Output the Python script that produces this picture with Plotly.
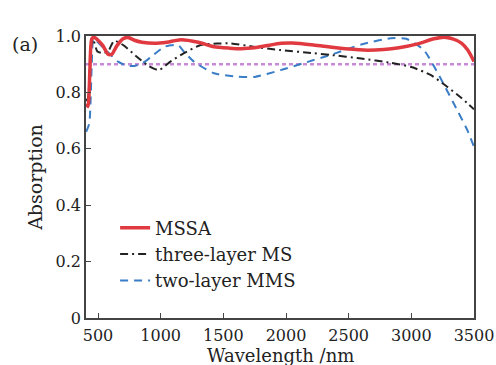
import plotly.graph_objects as go

# ---- data ----
mssa_w = [405, 420, 435, 450, 470, 500, 540, 580, 610, 650, 700, 740, 790, 850, 950, 1050, 1160, 1300,
          1425, 1550, 1640, 1750, 1850, 1960, 2050, 2220, 2400, 2620, 2780, 2900, 3050, 3180, 3260, 3330,
          3400, 3450, 3500]
mssa_a = [0.76, 0.75, 0.88, 0.99, 0.995, 0.985, 0.965, 0.935, 0.935, 0.965, 0.99, 0.995, 0.985, 0.978,
          0.974, 0.978, 0.987, 0.978, 0.962, 0.957, 0.955, 0.958, 0.966, 0.974, 0.975, 0.968, 0.958, 0.95,
          0.952, 0.958, 0.972, 0.99, 0.996, 0.99, 0.975, 0.95, 0.91]

ms3_w = [405, 420, 440, 460, 495, 540, 580, 628, 700, 800, 900, 984, 1080, 1186, 1319, 1450, 1558, 1742,
         1957, 2200, 2355, 2600, 2834, 3000, 3153, 3286, 3400, 3500]
ms3_a = [0.77, 0.78, 0.95, 0.99, 0.945, 0.94, 0.945, 0.983, 0.968, 0.93, 0.895, 0.879, 0.91, 0.939, 0.968,
         0.973, 0.974, 0.962, 0.95, 0.94, 0.933, 0.92, 0.905, 0.89, 0.862, 0.82, 0.78, 0.74]

mms2_w = [405, 430, 450, 465, 520, 588, 660, 730, 793, 860, 926, 1032, 1138, 1186, 1265, 1425, 1611, 1750,
          1957, 2150, 2355, 2600, 2834, 2960, 3100, 3233, 3366, 3446, 3500]
mms2_a = [0.66, 0.69, 0.9, 0.99, 0.968, 0.939, 0.909, 0.895, 0.894, 0.905, 0.927, 0.962, 0.968, 0.944,
          0.909, 0.868, 0.856, 0.855, 0.879, 0.905, 0.933, 0.97, 0.992, 0.99, 0.95, 0.85, 0.737, 0.667, 0.607]

ref_w = [404, 3500]
ref_a = [0.9, 0.9]

x_ticks = [500, 1000, 1500, 2000, 2500, 3000, 3500]
y_ticks = [0, 0.2, 0.4, 0.6, 0.8, 1.0]
y_labels = ["0", "0.2", "0.4", "0.6", "0.8", "1.0"]

FONT = "DejaVu Serif"

fig = go.Figure()
fig.add_trace(go.Scatter(x=ref_w, y=ref_a, mode="lines", showlegend=False,
                         line=dict(color="#c98ad8", width=2.5, dash="4px,3px")))
fig.add_trace(go.Scatter(x=mms2_w, y=mms2_a, mode="lines", name="two-layer MMS", legendrank=3,
                         legendgroup="c",
                         line=dict(color="#3a7dc6", width=2, dash="8px,6px", shape="spline", smoothing=0.6)))
fig.add_trace(go.Scatter(x=ms3_w, y=ms3_a, mode="lines", name="three-layer MS", legendrank=2,
                         legendgroup="b",
                         line=dict(color="#222222", width=2, dash="8px,4px,2px,4px", shape="spline", smoothing=0.6)))
fig.add_trace(go.Scatter(x=mssa_w, y=mssa_a, mode="lines", name="MSSA", legendrank=1,
                         legendgroup="a",
                         line=dict(color="#e03a40", width=3.5, shape="spline", smoothing=0.6)))

axis_common = dict(showline=True, mirror=True, linecolor="#444444", linewidth=1.5,
                   showgrid=False, zeroline=False, ticks="inside", ticklen=5, automargin=False,
                   tickcolor="#444444", tickfont=dict(family=FONT, size=16, color="#222222"))

fig.update_layout(
    width=496, height=365,
    margin=dict(l=86, r=22, t=36, b=47),
    paper_bgcolor="white", plot_bgcolor="white",
    xaxis=dict(range=[404, 3500], tickvals=x_ticks, ticklabelstandoff=2, **axis_common),
    yaxis=dict(range=[0, 1.0], tickvals=y_ticks, ticktext=y_labels,
               title=dict(text="Absorption", font=dict(family=FONT, size=19, color="#222222"), standoff=8),
               **axis_common),
    legend=dict(x=0.075, y=0.385, xanchor="left", yanchor="top", bgcolor="rgba(0,0,0,0)",
                font=dict(family=FONT, size=18, color="#222222"), itemwidth=30,
                traceorder="grouped", tracegroupgap=0),
)
fig.add_annotation(text="Wavelength /nm", xref="paper", yref="paper", x=0.5, y=-0.133,
                   xanchor="center", yanchor="middle", showarrow=False,
                   font=dict(family=FONT, size=18, color="#222222"))
fig.add_annotation(text="(a)", xref="paper", yref="paper", x=-0.196, y=0.972, xanchor="left", yanchor="middle",
                   showarrow=False, font=dict(family=FONT, size=19, color="#222222"))

fig.write_html("out.html", config={"displayModeBar": False},
               post_script="document.body.style.margin='0';")
